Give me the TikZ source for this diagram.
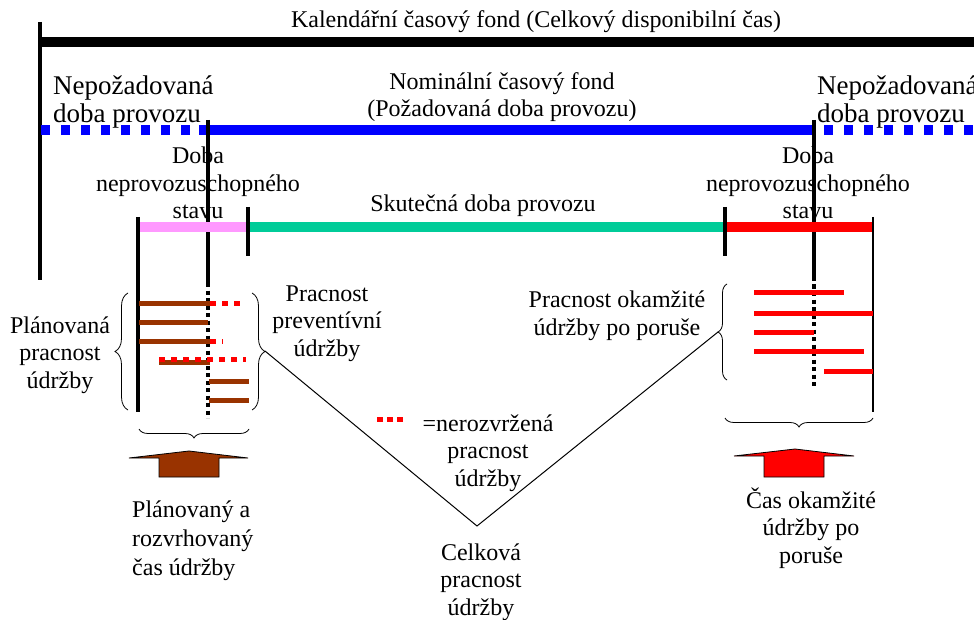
\documentclass[tikz,border=0pt]{standalone}
\usepackage{fontspec}
\setmainfont{Liberation Serif}
\usetikzlibrary{decorations.pathreplacing}
\definecolor{myblue}{HTML}{0000FF}
\definecolor{mypink}{HTML}{FF99FF}
\definecolor{myteal}{HTML}{00CC99}
\definecolor{myred}{HTML}{FF0000}
\definecolor{mybrown}{HTML}{993300}
\begin{document}
\begin{tikzpicture}[x=1pt,y=-1pt,
  txt/.style={font=\fontsize{24}{27.5}\selectfont, inner sep=0pt, align=center, anchor=base},
  txtl/.style={font=\fontsize{24}{29}\selectfont, inner sep=0pt, align=left, anchor=base west},
  big/.style={font=\fontsize{27}{28}\selectfont, inner sep=0pt, align=left, anchor=base west},
  bigbar/.style={line width=10pt},
  tick/.style={line width=3.5pt},
  thintick/.style={line width=1.2pt},
  bdot/.style={line width=3.5pt, dash pattern=on 4pt off 3.5pt},
  rdot/.style={myred, line width=5pt, dash pattern=on 6pt off 6pt},
  brbar/.style={mybrown, line width=5pt},
  rbar/.style={myred, line width=5pt},
  brc/.style={decorate, decoration={brace, amplitude=#1}, line width=0.8pt},
  blockarrow/.style={draw=black, line width=0.8pt}
]
\useasboundingbox (0,0) rectangle (974,620);

% Calendar fund
\node[txt] (title) at (536,28) {Kalendářní časový fond (Celkový disponibilní čas)};
\coordinate (calL) at (40,42);
\coordinate (calR) at (974,42);
\draw[bigbar] (calL) -- (calR);
\coordinate (vt0) at (40,22);
\coordinate (vb0) at (40,280);
\draw[tick] (vt0) -- (vb0);

% Nominal fund (blue)
\coordinate (b1) at (41,130);
\coordinate (b2) at (199,130);
\coordinate (b3) at (812,130);
\coordinate (b4) at (824,130);
\coordinate (b5) at (974,130);
\draw[myblue, line width=10pt, dash pattern=on 9pt off 11pt] (b1) -- (b2);
\draw[myblue, line width=10pt] (b2) -- (b3);
\draw[myblue, line width=10pt, dash pattern=on 9pt off 11pt] (b4) -- (b5);

\node[big] (nepL) at (53,123) {Nepožadovaná\\doba provozu};
\node[big] (nepR) at (817,123) {Nepožadovaná\\doba provozu};
\node[txt] (nom) at (502,117) {Nominální časový fond\\(Požadovaná doba provozu)};

% Down-time verticals
\coordinate (d1t) at (208,120);
\coordinate (d1m) at (208,283);
\coordinate (d1b) at (208,418);
\draw[tick] (d1t) -- (d1m);
\draw[bdot] (d1m) -- (d1b);
\coordinate (d2t) at (814,120);
\coordinate (d2m) at (814,277);
\coordinate (d2b) at (814,387);
\draw[tick] (d2t) -- (d2m);
\draw[bdot] (d2m) -- (d2b);

\node[txt] (dobaL) at (198,219) {Doba\\neprovozuschopného\\stavu};
\node[txt] (dobaR) at (808,219) {Doba\\neprovozuschopného\\stavu};

% Actual operation
\coordinate (p1) at (138,227);
\coordinate (p2) at (248,227);
\coordinate (p3) at (725,227);
\coordinate (p4) at (873,227);
\draw[mypink, line width=10pt] (p1) -- (p2);
\draw[myteal, line width=10pt] (p2) -- (p3);
\draw[myred, line width=10pt] (p3) -- (p4);
\node[txt] (skut) at (483,212) {Skutečná doba provozu};

\draw[tick] (138,217) -- (138,412);
\draw[tick] (248,207) -- (248,256);
\draw[tick] (725,207) -- (725,256);
\draw[thintick] (873,217) -- (873,412);

% Planned maintenance bars
\draw[brbar] (139,303) -- (210,303);
\draw[rdot] (210,303) -- (246,303);
\draw[brbar] (139,322) -- (208,322);
\draw[brbar] (139,341) -- (210,341);
\draw[rdot] (210,341) -- (223,341);
\draw[brbar] (159,362) -- (210,362);
\draw[rdot] (159,359) -- (246,359);
\draw[brbar] (209,381) -- (249,381);
\draw[brbar] (209,400) -- (249,400);

% Corrective maintenance bars
\draw[rbar] (754,292) -- (844,292);
\draw[rbar] (754,313) -- (873,313);
\draw[rbar] (754,332) -- (814,332);
\draw[rbar] (754,351) -- (864,351);
\draw[rbar] (824,371) -- (873,371);

% Braces
\draw[brc=13pt] (128,410) -- (128,293);
\node[txt] (plan) at (60,388) {Plánovaná\\pracnost\\údržby};
\draw[brc=13pt] (252,293) -- (252,410);
\node[txt] (prev) at (327,356) {Pracnost\\preventívní\\údržby};
\draw[brc=9pt] (727,380) -- (727,284);
\node[txt] (okam) at (617,335) {Pracnost okamžité\\údržby po poruše};
\draw[brc=9pt] (249,429) -- (139,429);
\draw[brc=9pt] (873,418) -- (725,418);

% Total maintenance V
\coordinate (vl) at (265,351);
\coordinate (vb) at (477,526);
\coordinate (vr) at (718,332);
\draw[line width=1pt] (vl) -- (vb) -- (vr);

% Legend
\coordinate (lg1) at (377,419);
\coordinate (lg2) at (403,419);
\draw[myred, line width=5pt, dash pattern=on 6pt off 4pt] (lg1) -- (lg2);
\node[txt] (nero) at (488,486) {=nerozvržená\\pracnost\\údržby};
\node[txt] (celk) at (481,615) {Celková\\pracnost\\údržby};

% Block arrows
\filldraw[blockarrow, fill=mybrown] (129,458) -- (189,451) -- (248,458) -- (219,458) -- (219,477) -- (159,477) -- (159,458) -- cycle;
\filldraw[blockarrow, fill=myred] (734,456) -- (795,449) -- (854,456) -- (824,456) -- (824,477) -- (764,477) -- (764,456) -- cycle;

\node[txtl] (planrozv) at (132,575) {Plánovaný a\\rozvrhovaný\\čas údržby};
\node[txt] (casok) at (811,563) {Čas okamžité\\údržby po\\poruše};
\end{tikzpicture}
\end{document}
